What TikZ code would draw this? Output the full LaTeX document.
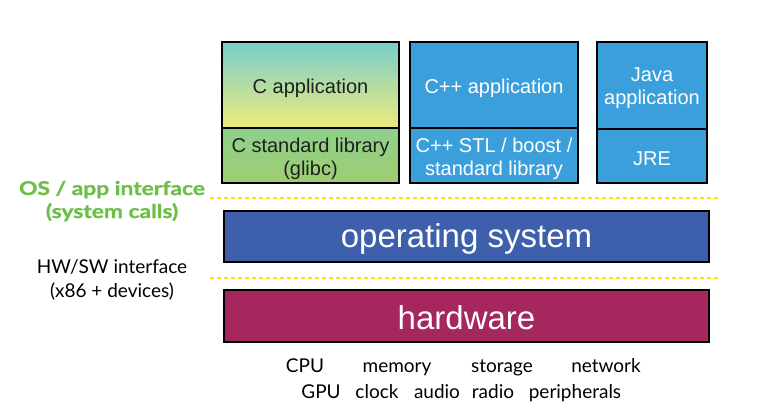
\documentclass[tikz,border=0pt]{standalone}
\usepackage{fontspec}
\setmainfont{Liberation Sans}
\newfontfamily\gill{Lato}
\newfontfamily\gillwide{Lato}[FakeStretch=1.2, BoldFeatures={FakeBold=1.3}]
\definecolor{teal1}{RGB}{120,206,204}
\definecolor{yel1}{RGB}{238,235,122}
\definecolor{grn1}{RGB}{142,208,140}
\definecolor{grn2}{RGB}{160,205,112}
\definecolor{appblue}{RGB}{59,159,219}
\definecolor{osblue}{RGB}{62,96,172}
\definecolor{hwred}{RGB}{166,39,93}
\definecolor{labgreen}{RGB}{108,191,71}
\definecolor{dashyel}{RGB}{245,229,10}
\tikzset{
  layer/.style={draw=black, line width=1.6pt, inner sep=0pt},
  boxlab/.style={font=\fontsize{20}{23}\selectfont, align=center, yshift=-3pt, inner sep=0pt},
  biglab/.style={font=\fontsize{33}{38}\selectfont, text=white, yshift=-2pt, inner sep=0pt},
  iface/.style={draw=dashyel, line width=1.5pt, dash pattern=on 4pt off 3pt},
  sidelab/.style={font=\gill\fontsize{19}{23}\selectfont, anchor=base},
  greenlab/.style={font=\gillwide\bfseries\fontsize{19}{23}\selectfont, anchor=base, text=labgreen},
  devlab/.style={font=\gill\fontsize{19}{22}\selectfont, anchor=base},
}
\begin{document}
\begin{tikzpicture}[x=1pt,y=-1pt]
\useasboundingbox (0,0) rectangle (765,418);
% C stack
\node[layer, top color=teal1, bottom color=yel1, minimum width=177pt, minimum height=86pt,
  label={[boxlab, text=black!88]center:C application}] (capp) at (310.5,85) {};
\node[layer, top color=grn1, bottom color=grn2, minimum width=177pt, minimum height=55pt,
  label={[boxlab, text=black!88]center:{C standard library\\(glibc)}}] (clib) at (310.5,155.5) {};
% C++ stack
\node[layer, fill=appblue, minimum width=168pt, minimum height=86pt,
  label={[boxlab, text=white]center:C++ application}] (cppapp) at (494,85) {};
\node[layer, fill=appblue, minimum width=168pt, minimum height=55pt,
  label={[boxlab, text=white]center:{C++ STL / boost /\\standard library}}] (cpplib) at (494,155.5) {};
% Java stack
\node[layer, fill=appblue, minimum width=110pt, minimum height=87pt,
  label={[boxlab, text=white]center:{Java\\application}}] (japp) at (652,85.5) {};
\node[layer, fill=appblue, minimum width=110pt, minimum height=54pt,
  label={[boxlab, text=white]center:JRE}] (jre) at (652,156) {};
% OS and hardware
\node[layer, fill=osblue, minimum width=485pt, minimum height=51pt,
  label={[biglab]center:operating system}] (os) at (466.5,236.5) {};
\node[layer, fill=hwred, minimum width=485pt, minimum height=52pt,
  label={[biglab]center:hardware}] (hw) at (466.5,316) {};
% interface lines
\coordinate (i1a) at (210,198);
\coordinate (i1b) at (718,198);
\coordinate (i2a) at (210,278);
\coordinate (i2b) at (718,278);
\draw[iface] (i1a) -- (i1b);
\draw[iface] (i2a) -- (i2b);
% side labels
\node[greenlab] (osapi1) at (112,195) {OS / app interface};
\node[greenlab] (osapi2) at (112,218) {(system calls)};
\node[sidelab] (hwsw1) at (112,273) {HW/SW interface};
\node[sidelab] (hwsw2) at (112,297) {(x86 + devices)};
% devices
\node[devlab] (cpu) at (305,372) {CPU};
\node[devlab] (mem) at (397,372) {memory};
\node[devlab] (sto) at (502,372) {storage};
\node[devlab] (net) at (606,372) {network};
\node[devlab] (gpu) at (321,398) {GPU};
\node[devlab] (clk) at (377,398) {clock};
\node[devlab] (aud) at (437,398) {audio};
\node[devlab] (rad) at (493,398) {radio};
\node[devlab] (per) at (575,398) {peripherals};
\end{tikzpicture}
\end{document}
